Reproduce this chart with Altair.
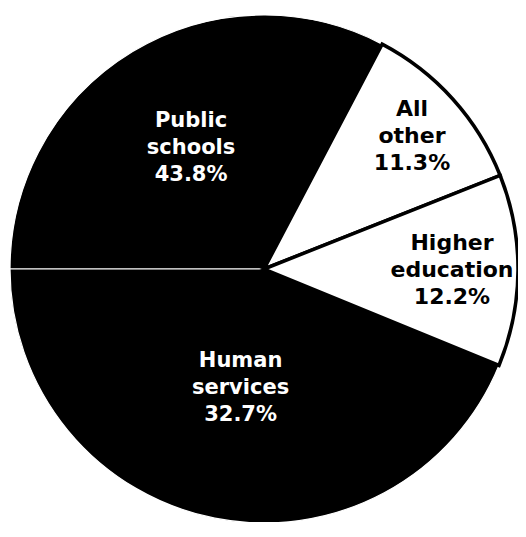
import math
import altair as alt
import pandas as pd

# Slices in drawing order, clockwise from 9 o'clock (as drawn in the reference)
categories = ["Public\nschools", "All\nother", "Higher\neducation", "Human\nservices"]
drawn_shares = [32.7, 11.3, 12.2, 43.8]          # angular size of each slice as drawn
pct_labels = ["43.8%", "11.3%", "12.2%", "32.7%"]  # printed percentages

# styling / layout (not data)
fills = ["black", "white", "white", "black"]
text_colors = ["white", "black", "black", "white"]
label_radius = [141, 199, 188, 121]
font_sizes = [21, 22, 22, 21]

df = pd.DataFrame({
    "cat": categories,
    "share": drawn_shares,
    "label": [c + "\n" + p for c, p in zip(categories, pct_labels)],
    "fill": fills,
    "tcolor": text_colors,
    "lr": label_radius,
    "fs": font_sizes,
    "ord": list(range(len(categories))),
})

theta_scale = alt.Scale(domain=[0, 100], range=[3 * math.pi / 2, 7 * math.pi / 2])

base = (
    alt.Chart(df)
    .transform_window(end="sum(share)", frame=[None, 0], sort=[alt.SortField("ord")])
    .transform_calculate(start="datum.end - datum.share", mid="datum.end - datum.share / 2")
)

R = 254

dark = base.transform_filter("datum.fill == 'black'").mark_arc(
    outerRadius=R, stroke="white", strokeWidth=1.2
).encode(
    theta=alt.Theta("start:Q", scale=theta_scale),
    theta2="end:Q",
    color=alt.Color("fill:N", scale=None),
)

light = base.transform_filter("datum.fill == 'white'").mark_arc(
    outerRadius=R, stroke="black", strokeWidth=3.5
).encode(
    theta=alt.Theta("start:Q", scale=theta_scale),
    theta2="end:Q",
    color=alt.Color("fill:N", scale=None),
)

labels = base.mark_text(
    font="DejaVu Sans", fontWeight="bold", lineBreak="\n",
    lineHeight=27, align="center", baseline="middle", dy=-27
).encode(
    theta=alt.Theta("mid:Q", scale=theta_scale),
    radius=alt.Radius("lr:Q", scale=None),
    text="label:N",
    size=alt.Size("fs:Q", scale=None),
    color=alt.Color("tcolor:N", scale=None),
)

chart = (
    alt.layer(dark, light, labels)
    .properties(width=508, height=506,
                padding={"left": 2, "top": 8, "right": 0, "bottom": 0},
                autosize=alt.AutoSizeParams(type="none"))
    .configure_view(stroke=None)
)

chart.save("out.html", embed_options={"renderer": "svg", "actions": False})
